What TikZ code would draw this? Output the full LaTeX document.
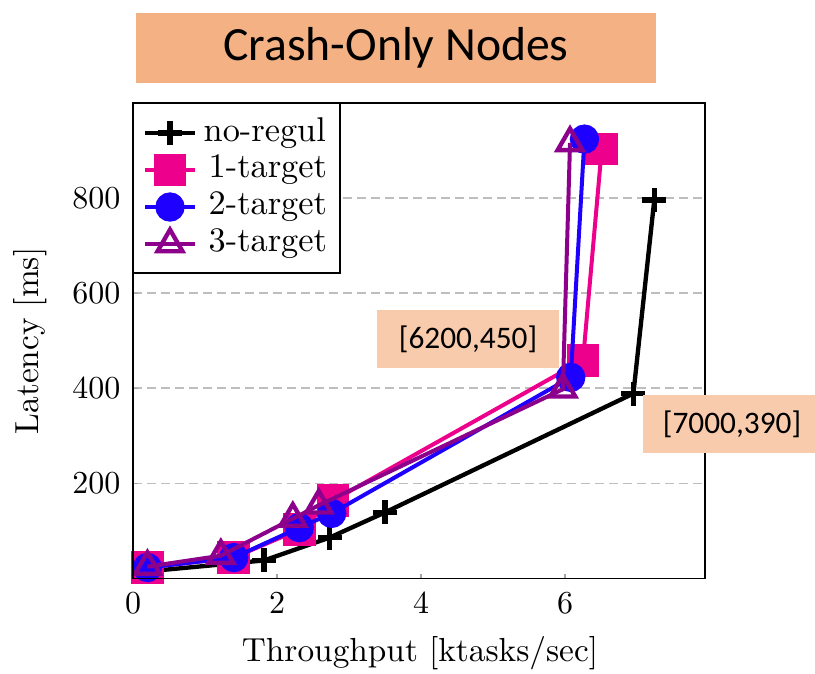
\documentclass[tikz,border=0pt]{standalone}
\usepackage{fontspec}
\newfontfamily\calib{Carlito}
\usetikzlibrary{plotmarks}
\definecolor{cpink}{RGB}{236,0,140}
\definecolor{cblue}{RGB}{30,0,255}
\definecolor{cpurple}{RGB}{140,0,140}
\definecolor{titlefill}{RGB}{244,177,131}
\definecolor{notefill}{RGB}{248,203,173}
\definecolor{gridgray}{RGB}{190,190,190}
\tikzset{
  gridline/.style={gridgray, line width=0.5pt, dash pattern=on 2.7pt off 1.5pt},
  tickmark/.style={gray!70, line width=0.4pt},
  ticklabel/.style={font=\fontsize{9.6}{11}\selectfont, inner sep=0pt},
  axlabel/.style={font=\fontsize{10}{12}\selectfont, inner sep=0pt},
  legtext/.style={font=\fontsize{10.3}{12}\selectfont, anchor=west, inner sep=0pt},
  notebox/.style={fill=notefill, draw=none},
  notetext/.style={font=\calib\fontsize{9.4}{11}\selectfont, inner sep=0pt},
  sernoreg/.style={black, line width=1.3pt, mark=+, mark size=3.6pt, mark options={line width=1.6pt}},
  serone/.style={cpink, line width=1.2pt, mark=square*, mark size=4.3pt, mark options={fill=cpink, draw=cpink}},
  sertwo/.style={cblue, line width=1.2pt, mark=*, mark size=3.8pt, mark options={fill=cblue, draw=cblue}},
  serthree/.style={cpurple, line width=1.2pt, mark=triangle, mark size=4.3pt, mark options={line width=1.3pt}},
}
\begin{document}
\begin{tikzpicture}[x=0.3pt, y=-0.3pt]
\useasboundingbox (0,0) rectangle (815,673);
% title
\fill[titlefill] (136,13) rectangle (656,83);
\node[font=\calib\fontsize{14.3}{17}\selectfont, inner sep=0pt] (title) at (396,48) {Crash-Only Nodes};
% grid
\foreach \v/\py in {200/483.4, 400/388.3, 600/293.2, 800/198.1} {
  \draw[gridline] (133,\py) -- (705,\py);
  \draw[tickmark] (133,\py) -- (138,\py);
  \node[ticklabel, anchor=east] at (121,\py) {\v};
}
\foreach \v/\px in {0/133, 2/277, 4/421, 6/565} {
  \draw[tickmark] (\px,578.5) -- (\px,573.5);
  \node[ticklabel] at (\px,603) {\v};
}
% axis labels
\node[axlabel] (xlab) at (420,653) {Throughput [ktasks/sec]};
\node[axlabel, rotate=90] (ylab) at (30,341) {Latency [ms]};
% data
\begin{scope}[shift={(133,578.5)}, x=21.6pt, y=0.14265pt]
\draw[sernoreg] plot coordinates {(0.2,15) (1.82,38) (2.73,86) (3.5,139) (6.95,389) (7.24,796)};
\draw[serone] plot coordinates {(0.2,23) (1.4,44) (2.31,103) (2.78,164) (6.25,459) (6.51,903)};
\draw[sertwo] plot coordinates {(0.2,23) (1.4,44) (2.31,107) (2.76,137) (6.08,423) (6.27,924)};
\draw[serthree] plot coordinates {(0.2,25) (1.22,48) (2.22,126) (2.58,154) (5.97,398) (6.07,916)};
\end{scope}
% frame
\draw[black, line width=0.5pt] (133,103) rectangle (705,578.5);
% legend
\draw[black, line width=0.5pt, fill=white] (133,103) rectangle (340,273);
\draw[sernoreg] plot[mark indices={2}] coordinates {(145,133) (170,133) (195,133)};
\node[legtext] (l1) at (203,133) {no-regul};
\draw[serone] plot[mark indices={2}] coordinates {(145,170) (170,170) (195,170)};
\node[legtext] (l2) at (208,170) {1-target};
\draw[sertwo] plot[mark indices={2}] coordinates {(145,207) (170,207) (195,207)};
\node[legtext] (l3) at (208,207) {2-target};
\draw[serthree] plot[mark indices={2}] coordinates {(145,244) (170,244) (195,244)};
\node[legtext] (l4) at (208,244) {3-target};
% notes
\fill[notebox] (377,310) rectangle (559,368);
\node[notetext] (n1) at (468,339) {[6200,450]};
\fill[notebox] (643,395) rectangle (815,453);
\node[notetext] (n2) at (732,424) {[7000,390]};
\end{tikzpicture}
\end{document}
